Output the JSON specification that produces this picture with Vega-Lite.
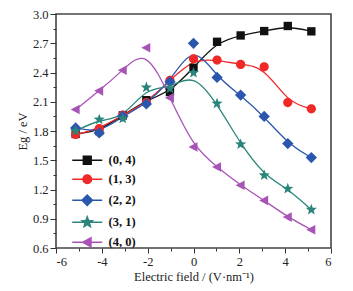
{
  "$schema": "https://vega.github.io/schema/vega-lite/v6.json",
  "width": 275,
  "height": 234,
  "autosize": {"type": "none"},
  "padding": {"left": 56, "top": 14, "right": 22, "bottom": 43},
  "background": "white",
  "config": {
    "view": {"stroke": "#454545", "strokeWidth": 1.6},
    "font": "Liberation Serif",
    "axis": {
      "domain": false, "grid": false,
      "labelFont": "Liberation Serif", "labelFontSize": 12.5, "labelColor": "#222",
      "titleFont": "Liberation Serif", "titleFontSize": 12.5, "titleFontWeight": "normal", "titleColor": "#222",
      "tickColor": "#333", "tickWidth": 1
    }
  },
  "datasets": {
    "main": [
      {"F": -5.142, "Eg": 1.77, "s": "(0, 4)"}, {"F": -4.114, "Eg": 1.80, "s": "(0, 4)"}, {"F": -3.085, "Eg": 1.96, "s": "(0, 4)"}, {"F": -2.057, "Eg": 2.116, "s": "(0, 4)"}, {"F": -1.028, "Eg": 2.20, "s": "(0, 4)"}, {"F": 0, "Eg": 2.448, "s": "(0, 4)"}, {"F": 1.028, "Eg": 2.715, "s": "(0, 4)"}, {"F": 2.057, "Eg": 2.78, "s": "(0, 4)"}, {"F": 3.085, "Eg": 2.825, "s": "(0, 4)"}, {"F": 4.114, "Eg": 2.877, "s": "(0, 4)"}, {"F": 5.142, "Eg": 2.822, "s": "(0, 4)"},
      {"F": -5.142, "Eg": 1.764, "s": "(1, 3)"}, {"F": -4.114, "Eg": 1.825, "s": "(1, 3)"}, {"F": -3.085, "Eg": 1.962, "s": "(1, 3)"}, {"F": -2.057, "Eg": 2.09, "s": "(1, 3)"}, {"F": -1.028, "Eg": 2.32, "s": "(1, 3)"}, {"F": 0, "Eg": 2.54, "s": "(1, 3)"}, {"F": 1.028, "Eg": 2.527, "s": "(1, 3)"}, {"F": 2.057, "Eg": 2.483, "s": "(1, 3)"}, {"F": 3.085, "Eg": 2.458, "s": "(1, 3)"}, {"F": 4.114, "Eg": 2.092, "s": "(1, 3)"}, {"F": 5.142, "Eg": 2.027, "s": "(1, 3)"},
      {"F": -5.142, "Eg": 1.832, "s": "(2, 2)"}, {"F": -4.114, "Eg": 1.78, "s": "(2, 2)"}, {"F": -3.085, "Eg": 1.952, "s": "(2, 2)"}, {"F": -2.057, "Eg": 2.078, "s": "(2, 2)"}, {"F": -1.028, "Eg": 2.304, "s": "(2, 2)"}, {"F": 0, "Eg": 2.699, "s": "(2, 2)"}, {"F": 1.028, "Eg": 2.349, "s": "(2, 2)"}, {"F": 2.057, "Eg": 2.168, "s": "(2, 2)"}, {"F": 3.085, "Eg": 1.949, "s": "(2, 2)"}, {"F": 4.114, "Eg": 1.671, "s": "(2, 2)"}, {"F": 5.142, "Eg": 1.527, "s": "(2, 2)"},
      {"F": -5.142, "Eg": 1.80, "s": "(3, 1)"}, {"F": -4.114, "Eg": 1.918, "s": "(3, 1)"}, {"F": -3.085, "Eg": 1.928, "s": "(3, 1)"}, {"F": -2.057, "Eg": 2.247, "s": "(3, 1)"}, {"F": -1.028, "Eg": 2.236, "s": "(3, 1)"}, {"F": 0, "Eg": 2.397, "s": "(3, 1)"}, {"F": 1.028, "Eg": 2.082, "s": "(3, 1)"}, {"F": 2.057, "Eg": 1.664, "s": "(3, 1)"}, {"F": 3.085, "Eg": 1.345, "s": "(3, 1)"}, {"F": 4.114, "Eg": 1.208, "s": "(3, 1)"}, {"F": 5.142, "Eg": 0.993, "s": "(3, 1)"},
      {"F": -5.142, "Eg": 2.02, "s": "(4, 0)"}, {"F": -4.114, "Eg": 2.212, "s": "(4, 0)"}, {"F": -3.085, "Eg": 2.424, "s": "(4, 0)"}, {"F": -2.057, "Eg": 2.654, "s": "(4, 0)"}, {"F": -1.028, "Eg": 2.14, "s": "(4, 0)"}, {"F": 0, "Eg": 1.636, "s": "(4, 0)"}, {"F": 1.028, "Eg": 1.431, "s": "(4, 0)"}, {"F": 2.057, "Eg": 1.243, "s": "(4, 0)"}, {"F": 3.085, "Eg": 1.088, "s": "(4, 0)"}, {"F": 4.114, "Eg": 0.917, "s": "(4, 0)"}, {"F": 5.142, "Eg": 0.787, "s": "(4, 0)"}
    ]
  },
  "data": {"name": "main"},
  "encoding": {
    "x": {
      "field": "F", "type": "quantitative",
      "scale": {"domain": [-6, 6], "nice": false, "zero": false},
      "axis": {
        "title": "Electric field / (V·nm⁻¹)",
        "values": [-6, -5, -4, -3, -2, -1, 0, 1, 2, 3, 4, 5, 6],
        "labelExpr": "datum.value % 2 == 0 ? ('' + datum.value) : ''",
        "tickSize": {"condition": {"test": "datum.value % 2 == 0", "value": 5}, "value": 3},
        "labelPadding": 2,
        "titlePadding": 3
      }
    },
    "y": {
      "field": "Eg", "type": "quantitative",
      "scale": {"domain": [0.6, 3.0], "nice": false, "zero": false},
      "axis": {
        "title": "Eg / eV",
        "values": [0.6, 0.75, 0.9, 1.05, 1.2, 1.35, 1.5, 1.65, 1.8, 1.95, 2.1, 2.25, 2.4, 2.55, 2.7, 2.85, 3.0],
        "labelExpr": "round(datum.value * 100) % 30 == 0 ? format(datum.value, '.1f') : ''",
        "tickSize": {"condition": {"test": "round(datum.value * 100) % 30 == 0", "value": 6}, "value": 3},
        "labelPadding": 2,
        "titlePadding": 3
      }
    }
  },
  "layer": [
    {
      "mark": {"type": "line", "interpolate": "basis", "strokeWidth": 1.3},
      "encoding": {
        "color": {"field": "s", "type": "nominal", "legend": null,
          "scale": {"domain": ["(0, 4)", "(1, 3)", "(2, 2)", "(3, 1)", "(4, 0)"], "range": ["#111111", "#f02828", "#2a57ad", "#2b857c", "#a854b6"]}}
      }
    },
    {
      "mark": {"type": "point", "filled": true, "opacity": 1, "size": 70},
      "encoding": {
        "color": {"field": "s", "type": "nominal", "legend": null,
          "scale": {"domain": ["(0, 4)", "(1, 3)", "(2, 2)", "(3, 1)", "(4, 0)"], "range": ["#111111", "#f02828", "#2a57ad", "#2b857c", "#a854b6"]}},
        "shape": {"field": "s", "type": "nominal", "legend": null,
          "scale": {"domain": ["(0, 4)", "(1, 3)", "(2, 2)", "(3, 1)", "(4, 0)"],
            "range": ["M-1,-1H1V1H-1Z", "M1.1,0A1.1,1.1,0,1,1,-1.1,0A1.1,1.1,0,1,1,1.1,0Z", "M0,-1.35L1.35,0L0,1.35L-1.35,0Z", "M0,-1.4L0.346,-0.476L1.331,-0.433L0.559,0.182L0.823,1.133L0,0.588L-0.823,1.133L-0.559,0.182L-1.331,-0.433L-0.346,-0.476Z", "M-1.2,0L0.95,-1.15L0.95,1.15Z"]}}
      }
    },
    {
      "transform": [{"filter": "datum.F > 100"}],
      "mark": {"type": "point", "filled": true, "opacity": 1, "size": 64, "strokeWidth": 1.3},
      "encoding": {
        "color": {"field": "s", "type": "nominal",
          "scale": {"domain": ["(0, 4)", "(1, 3)", "(2, 2)", "(3, 1)", "(4, 0)"], "range": ["#111111", "#f02828", "#2a57ad", "#2b857c", "#a854b6"]},
          "legend": {"orient": "none", "legendX": 25, "legendY": 140, "title": null, "labelFont": "Liberation Serif", "labelFontWeight": "bold", "labelFontSize": 12.5, "labelColor": "#111", "labelOffset": 15, "symbolSize": 64, "rowPadding": 5, "padding": 0, "symbolStrokeWidth": 1.3}},
        "stroke": {"field": "s", "type": "nominal",
          "scale": {"domain": ["(0, 4)", "(1, 3)", "(2, 2)", "(3, 1)", "(4, 0)"], "range": ["#111111", "#f02828", "#2a57ad", "#2b857c", "#a854b6"]},
          "legend": {"orient": "none", "legendX": 25, "legendY": 140, "title": null, "labelFont": "Liberation Serif", "labelFontWeight": "bold", "labelFontSize": 12.5, "labelColor": "#111", "labelOffset": 15, "symbolSize": 64, "rowPadding": 5, "padding": 0, "symbolStrokeWidth": 1.3}},
        "shape": {"field": "s", "type": "nominal",
          "scale": {"domain": ["(0, 4)", "(1, 3)", "(2, 2)", "(3, 1)", "(4, 0)"],
            "range": ["M-3.75,0H3.75M-1,-1H1V1H-1Z", "M-3.75,0H3.75M1.1,0A1.1,1.1,0,1,1,-1.1,0A1.1,1.1,0,1,1,1.1,0Z", "M-3.75,0H3.75M0,-1.35L1.35,0L0,1.35L-1.35,0Z", "M-3.75,0H3.75M0,-1.4L0.346,-0.476L1.331,-0.433L0.559,0.182L0.823,1.133L0,0.588L-0.823,1.133L-0.559,0.182L-1.331,-0.433L-0.346,-0.476Z", "M-3.75,0H3.75M-1.2,0L0.95,-1.15L0.95,1.15Z"]},
          "legend": {"orient": "none", "legendX": 25, "legendY": 140, "title": null, "labelFont": "Liberation Serif", "labelFontWeight": "bold", "labelFontSize": 12.5, "labelColor": "#111", "labelOffset": 15, "symbolSize": 64, "rowPadding": 5, "padding": 0, "symbolStrokeWidth": 1.3}}
      }
    }
  ],
  "resolve": {"scale": {"color": "independent", "shape": "independent", "stroke": "independent"}}
}
